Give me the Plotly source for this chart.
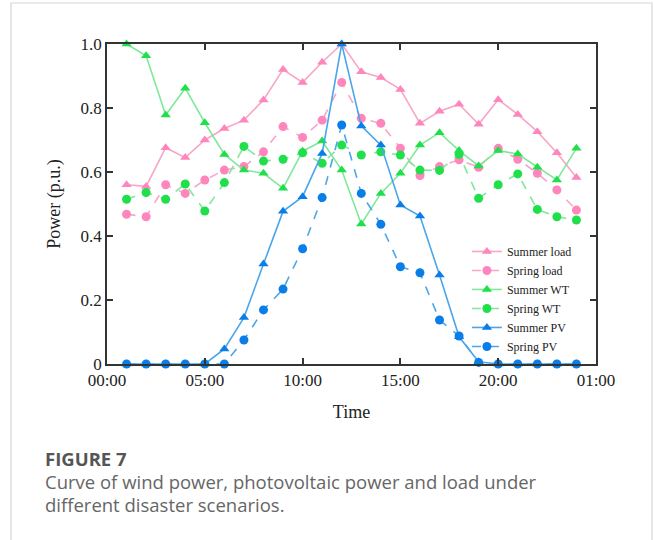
import plotly.graph_objects as go

hours = list(range(1, 25))
summer_load = [0.56, 0.555, 0.676, 0.645, 0.70, 0.736, 0.762, 0.825, 0.92, 0.88, 0.943, 1.0,
               0.913, 0.895, 0.858, 0.752, 0.79, 0.812, 0.749, 0.826, 0.78, 0.726, 0.66, 0.583]
spring_load = [0.468, 0.46, 0.56, 0.533, 0.575, 0.606, 0.617, 0.663, 0.742, 0.708, 0.762, 0.88,
               0.768, 0.752, 0.674, 0.589, 0.617, 0.638, 0.615, 0.674, 0.64, 0.596, 0.544, 0.481]
summer_wt = [1.0, 0.963, 0.778, 0.862, 0.754, 0.655, 0.606, 0.596, 0.549, 0.665, 0.697, 0.606,
             0.4375, 0.533, 0.596, 0.684, 0.723, 0.667, 0.619, 0.667, 0.656, 0.615, 0.575, 0.674]
spring_wt = [0.515, 0.536, 0.515, 0.5625, 0.478, 0.567, 0.68, 0.634, 0.64, 0.66, 0.627, 0.684,
             0.653, 0.663, 0.653, 0.606, 0.605, 0.655, 0.518, 0.56, 0.594, 0.483, 0.46, 0.45]
summer_pv = [0, 0, 0, 0, 0, 0.047, 0.145, 0.3125, 0.477, 0.523, 0.658, 1.0,
             0.744, 0.684, 0.497, 0.4625, 0.278, 0.085, 0.007, 0, 0, 0, 0, 0]
spring_pv = [0, 0, 0, 0, 0, 0, 0.075, 0.169, 0.234, 0.36, 0.52, 0.747,
             0.533, 0.4365, 0.304, 0.285, 0.1375, 0.0875, 0.005, 0, 0, 0, 0, 0]

x_tick_vals = [0, 5, 10, 15, 20, 25]
x_tick_text = ["00:00", "05:00", "10:00", "15:00", "20:00", "01:00"]
y_tick_vals = [0, 0.2, 0.4, 0.6, 0.8, 1.0]
y_tick_text = ["0", "0.2", "0.4", "0.6", "0.8", "1.0"]

PINK_L, PINK_M = "#f7a6c8", "#ff85bd"
GREEN_L, GREEN_M = "#7fe89a", "#1fe04a"
BLUE_L, BLUE_M = "#4aa6ea", "#0a7ee8"

series = [
    ("Summer load", summer_load, PINK_L, PINK_M, "triangle-up", "solid"),
    ("Spring load", spring_load, PINK_L, PINK_M, "circle", "dash"),
    ("Summer WT", summer_wt, GREEN_L, GREEN_M, "triangle-up", "solid"),
    ("Spring WT", spring_wt, GREEN_L, GREEN_M, "circle", "dash"),
    ("Summer PV", summer_pv, BLUE_L, BLUE_M, "triangle-up", "solid"),
    ("Spring PV", spring_pv, BLUE_L, BLUE_M, "circle", "dash"),
]

fig = go.Figure()
for name, vals, lc, mc, sym, dash in series:
    fig.add_trace(go.Scatter(
        x=hours, y=vals, name=name, mode="lines+markers",
        line=dict(color=lc, width=1.6, dash=dash),
        marker=dict(symbol=sym, color=mc, size=9),
        cliponaxis=False,
    ))

SERIF = "Liberation Serif"
axis_common = dict(showline=True, linecolor="#333", linewidth=1.5, mirror="ticks",
                   ticks="inside", ticklen=6, tickcolor="#333", tickwidth=1.5,
                   showgrid=False, zeroline=False, automargin=False,
                   tickfont=dict(family=SERIF, size=17, color="#222"))

fig.update_xaxes(range=[0, 25], tickvals=x_tick_vals, ticktext=x_tick_text,
                 title=dict(text="Time", font=dict(family=SERIF, size=18, color="#222"), standoff=16),
                 **axis_common)
fig.update_yaxes(range=[0, 1.0], tickvals=y_tick_vals, ticktext=y_tick_text,
                 title=dict(text="Power (p.u.)", font=dict(family=SERIF, size=18, color="#222"), standoff=15),
                 **axis_common)

fig.add_shape(type="rect", xref="paper", yref="paper",
              x0=(11 - 107) / 489, x1=(652 - 107) / 489,
              y0=(364 - 560) / 320, y1=(364 - 3) / 320,
              line=dict(color="#d6d6d6", width=1.2), fillcolor="rgba(0,0,0,0)", layer="below")

CAP = "Open Sans"
fig.add_annotation(text="<b>FIGURE 7</b>", xref="paper", yref="paper",
                   x=(43 - 107) / 489, y=(364 - 458) / 320, xanchor="left", yanchor="middle",
                   showarrow=False, font=dict(family=CAP, size=18.5, color="#555"))
fig.add_annotation(text="Curve of wind power, photovoltaic power and load under",
                   xref="paper", yref="paper",
                   x=(43 - 107) / 489, y=(364 - 481) / 320, xanchor="left", yanchor="middle",
                   showarrow=False, font=dict(family=CAP, size=18.5, color="#666"))
fig.add_annotation(text="different disaster scenarios.",
                   xref="paper", yref="paper",
                   x=(43 - 107) / 489, y=(364 - 504) / 320, xanchor="left", yanchor="middle",
                   showarrow=False, font=dict(family=CAP, size=18.5, color="#666"))

fig.update_layout(
    width=654, height=540,
    margin=dict(l=107, r=58, t=44, b=176),
    paper_bgcolor="white", plot_bgcolor="white",
    showlegend=True,
    legend=dict(x=0.736, y=0.397, xanchor="left", yanchor="top",
                bgcolor="rgba(0,0,0,0)", font=dict(family=SERIF, size=12, color="#222"),
                tracegroupgap=0, itemwidth=30),
)

fig.write_html("out.html", config={"displayModeBar": False},
               post_script="document.body.style.margin='0px';")
